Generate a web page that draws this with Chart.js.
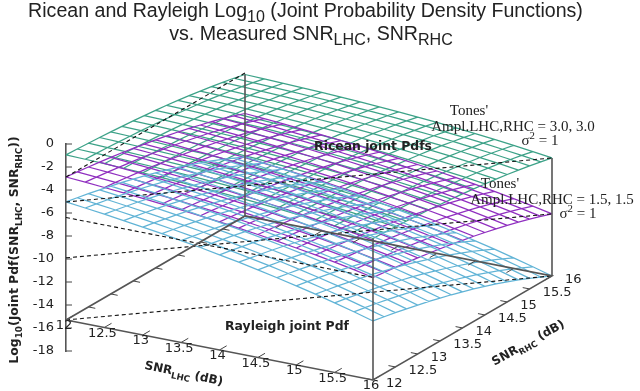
<!DOCTYPE html>
<html>
<head>
<meta charset="utf-8">
<style>
  html, body { margin: 0; padding: 0; background: #fff; }
  canvas { display: block; filter: blur(0.4px); }
</style>
<script src="https://cdn.jsdelivr.net/npm/chart.js@4/dist/chart.umd.min.js"></script>
</head>
<body>
<canvas id="chart" width="640" height="391"></canvas>
<script>
// grid of both SNR axes, in dB
const snrGrid = [12, 12.25, 12.5, 12.75, 13, 13.25, 13.5, 13.75, 14, 14.25, 14.5, 14.75, 15, 15.25, 15.5, 15.75, 16];
const snrTicks = [12, 12.5, 13, 13.5, 14, 14.5, 15, 15.5, 16];
const zTicks = [0, -2, -4, -6, -8, -10, -12, -14, -16, -18];
const floorZ = -15.3;

// log10 pdf, rows are SNR LHC, columns are SNR RHC
const ricean30 = [
  [-0.95,-1.00,-1.06,-1.13,-1.21,-1.29,-1.38,-1.49,-1.60,-1.72,-1.86,-2.01,-2.18,-2.36,-2.55,-2.76,-3.00],
  [-1.00,-1.05,-1.11,-1.18,-1.26,-1.34,-1.43,-1.54,-1.65,-1.78,-1.91,-2.06,-2.23,-2.41,-2.60,-2.82,-3.05],
  [-1.06,-1.11,-1.17,-1.24,-1.32,-1.40,-1.49,-1.60,-1.71,-1.84,-1.97,-2.12,-2.29,-2.47,-2.66,-2.88,-3.11],
  [-1.13,-1.18,-1.24,-1.31,-1.39,-1.47,-1.56,-1.67,-1.78,-1.90,-2.04,-2.19,-2.36,-2.54,-2.73,-2.94,-3.18],
  [-1.21,-1.26,-1.32,-1.39,-1.46,-1.54,-1.64,-1.74,-1.85,-1.98,-2.12,-2.27,-2.43,-2.61,-2.81,-3.02,-3.25],
  [-1.29,-1.34,-1.40,-1.47,-1.54,-1.63,-1.72,-1.82,-1.94,-2.06,-2.20,-2.35,-2.51,-2.69,-2.89,-3.10,-3.33],
  [-1.38,-1.43,-1.49,-1.56,-1.64,-1.72,-1.81,-1.92,-2.03,-2.16,-2.29,-2.44,-2.61,-2.79,-2.98,-3.20,-3.43],
  [-1.49,-1.54,-1.60,-1.67,-1.74,-1.82,-1.92,-2.02,-2.13,-2.26,-2.40,-2.55,-2.71,-2.89,-3.09,-3.30,-3.53],
  [-1.60,-1.65,-1.71,-1.78,-1.85,-1.94,-2.03,-2.13,-2.25,-2.37,-2.51,-2.66,-2.82,-3.00,-3.20,-3.41,-3.64],
  [-1.72,-1.78,-1.84,-1.90,-1.98,-2.06,-2.16,-2.26,-2.37,-2.50,-2.63,-2.78,-2.95,-3.13,-3.32,-3.54,-3.77],
  [-1.86,-1.91,-1.97,-2.04,-2.12,-2.20,-2.29,-2.40,-2.51,-2.63,-2.77,-2.92,-3.09,-3.27,-3.46,-3.67,-3.91],
  [-2.01,-2.06,-2.12,-2.19,-2.27,-2.35,-2.44,-2.55,-2.66,-2.78,-2.92,-3.07,-3.24,-3.42,-3.61,-3.83,-4.06],
  [-2.18,-2.23,-2.29,-2.36,-2.43,-2.51,-2.61,-2.71,-2.82,-2.95,-3.09,-3.24,-3.40,-3.58,-3.78,-3.99,-4.22],
  [-2.36,-2.41,-2.47,-2.54,-2.61,-2.69,-2.79,-2.89,-3.00,-3.13,-3.27,-3.42,-3.58,-3.76,-3.96,-4.17,-4.40],
  [-2.55,-2.60,-2.66,-2.73,-2.81,-2.89,-2.98,-3.09,-3.20,-3.32,-3.46,-3.61,-3.78,-3.96,-4.15,-4.37,-4.60],
  [-2.76,-2.82,-2.88,-2.94,-3.02,-3.10,-3.20,-3.30,-3.41,-3.54,-3.67,-3.83,-3.99,-4.17,-4.37,-4.58,-4.81],
  [-3.00,-3.05,-3.11,-3.18,-3.25,-3.33,-3.43,-3.53,-3.64,-3.77,-3.91,-4.06,-4.22,-4.40,-4.60,-4.81,-5.04]
];
const ricean15 = [
  [-2.87,-2.99,-3.13,-3.27,-3.43,-3.59,-3.77,-3.96,-4.16,-4.38,-4.61,-4.86,-5.13,-5.41,-5.71,-6.04,-6.39],
  [-2.99,-3.12,-3.25,-3.40,-3.55,-3.71,-3.89,-4.08,-4.28,-4.50,-4.74,-4.98,-5.25,-5.53,-5.84,-6.16,-6.51],
  [-3.13,-3.25,-3.39,-3.53,-3.69,-3.85,-4.03,-4.22,-4.42,-4.64,-4.87,-5.12,-5.38,-5.67,-5.97,-6.30,-6.64],
  [-3.27,-3.40,-3.53,-3.68,-3.83,-3.99,-4.17,-4.36,-4.56,-4.78,-5.01,-5.26,-5.53,-5.81,-6.12,-6.44,-6.79],
  [-3.43,-3.55,-3.69,-3.83,-3.98,-4.15,-4.32,-4.51,-4.72,-4.93,-5.17,-5.42,-5.68,-5.97,-6.27,-6.59,-6.94],
  [-3.59,-3.71,-3.85,-3.99,-4.15,-4.31,-4.49,-4.68,-4.88,-5.10,-5.33,-5.58,-5.85,-6.13,-6.43,-6.76,-7.11],
  [-3.77,-3.89,-4.03,-4.17,-4.32,-4.49,-4.67,-4.86,-5.06,-5.28,-5.51,-5.76,-6.02,-6.31,-6.61,-6.94,-7.28],
  [-3.96,-4.08,-4.22,-4.36,-4.51,-4.68,-4.86,-5.05,-5.25,-5.47,-5.70,-5.95,-6.21,-6.50,-6.80,-7.13,-7.47],
  [-4.16,-4.28,-4.42,-4.56,-4.72,-4.88,-5.06,-5.25,-5.45,-5.67,-5.90,-6.15,-6.42,-6.70,-7.00,-7.33,-7.68],
  [-4.38,-4.50,-4.64,-4.78,-4.93,-5.10,-5.28,-5.47,-5.67,-5.89,-6.12,-6.37,-6.63,-6.92,-7.22,-7.55,-7.89],
  [-4.61,-4.74,-4.87,-5.01,-5.17,-5.33,-5.51,-5.70,-5.90,-6.12,-6.35,-6.60,-6.87,-7.15,-7.45,-7.78,-8.13],
  [-4.86,-4.98,-5.12,-5.26,-5.42,-5.58,-5.76,-5.95,-6.15,-6.37,-6.60,-6.85,-7.12,-7.40,-7.70,-8.03,-8.38],
  [-5.13,-5.25,-5.38,-5.53,-5.68,-5.85,-6.02,-6.21,-6.42,-6.63,-6.87,-7.12,-7.38,-7.67,-7.97,-8.29,-8.64],
  [-5.41,-5.53,-5.67,-5.81,-5.97,-6.13,-6.31,-6.50,-6.70,-6.92,-7.15,-7.40,-7.67,-7.95,-8.25,-8.58,-8.93],
  [-5.71,-5.84,-5.97,-6.12,-6.27,-6.43,-6.61,-6.80,-7.00,-7.22,-7.45,-7.70,-7.97,-8.25,-8.56,-8.88,-9.23],
  [-6.04,-6.16,-6.30,-6.44,-6.59,-6.76,-6.94,-7.13,-7.33,-7.55,-7.78,-8.03,-8.29,-8.58,-8.88,-9.21,-9.55],
  [-6.39,-6.51,-6.64,-6.79,-6.94,-7.11,-7.28,-7.47,-7.68,-7.89,-8.13,-8.38,-8.64,-8.93,-9.23,-9.55,-9.90]
];
const rayleigh = [
  [-5.04,-5.24,-5.45,-5.68,-5.92,-6.17,-6.44,-6.72,-7.03,-7.34,-7.68,-8.04,-8.42,-8.82,-9.25,-9.70,-10.17],
  [-5.24,-5.44,-5.65,-5.88,-6.12,-6.37,-6.64,-6.92,-7.23,-7.55,-7.88,-8.24,-8.62,-9.02,-9.45,-9.90,-10.37],
  [-5.45,-5.65,-5.87,-6.09,-6.33,-6.58,-6.85,-7.14,-7.44,-7.76,-8.09,-8.45,-8.83,-9.23,-9.66,-10.11,-10.58],
  [-5.68,-5.88,-6.09,-6.32,-6.56,-6.81,-7.08,-7.36,-7.67,-7.98,-8.32,-8.68,-9.06,-9.46,-9.89,-10.34,-10.81],
  [-5.92,-6.12,-6.33,-6.56,-6.80,-7.05,-7.32,-7.60,-7.90,-8.22,-8.56,-8.92,-9.29,-9.70,-10.12,-10.57,-11.05],
  [-6.17,-6.37,-6.58,-6.81,-7.05,-7.30,-7.57,-7.85,-8.16,-8.48,-8.81,-9.17,-9.55,-9.95,-10.38,-10.83,-11.30],
  [-6.44,-6.64,-6.85,-7.08,-7.32,-7.57,-7.84,-8.12,-8.43,-8.74,-9.08,-9.44,-9.82,-10.22,-10.65,-11.10,-11.57],
  [-6.72,-6.92,-7.14,-7.36,-7.60,-7.85,-8.12,-8.41,-8.71,-9.03,-9.36,-9.72,-10.10,-10.50,-10.93,-11.38,-11.85],
  [-7.03,-7.23,-7.44,-7.67,-7.90,-8.16,-8.43,-8.71,-9.01,-9.33,-9.67,-10.02,-10.40,-10.80,-11.23,-11.68,-12.16],
  [-7.34,-7.55,-7.76,-7.98,-8.22,-8.48,-8.74,-9.03,-9.33,-9.65,-9.98,-10.34,-10.72,-11.12,-11.55,-12.00,-12.47],
  [-7.68,-7.88,-8.09,-8.32,-8.56,-8.81,-9.08,-9.36,-9.67,-9.98,-10.32,-10.68,-11.06,-11.46,-11.89,-12.34,-12.81],
  [-8.04,-8.24,-8.45,-8.68,-8.92,-9.17,-9.44,-9.72,-10.02,-10.34,-10.68,-11.04,-11.41,-11.82,-12.24,-12.69,-13.17],
  [-8.42,-8.62,-8.83,-9.06,-9.29,-9.55,-9.82,-10.10,-10.40,-10.72,-11.06,-11.41,-11.79,-12.19,-12.62,-13.07,-13.55],
  [-8.82,-9.02,-9.23,-9.46,-9.70,-9.95,-10.22,-10.50,-10.80,-11.12,-11.46,-11.82,-12.19,-12.60,-13.02,-13.47,-13.95],
  [-9.25,-9.45,-9.66,-9.89,-10.12,-10.38,-10.65,-10.93,-11.23,-11.55,-11.89,-12.24,-12.62,-13.02,-13.45,-13.90,-14.38],
  [-9.70,-9.90,-10.11,-10.34,-10.57,-10.83,-11.10,-11.38,-11.68,-12.00,-12.34,-12.69,-13.07,-13.47,-13.90,-14.35,-14.83],
  [-10.17,-10.37,-10.58,-10.81,-11.05,-11.30,-11.57,-11.85,-12.16,-12.47,-12.81,-13.17,-13.55,-13.95,-14.38,-14.83,-15.30]
];

// the dashed guide lines: [lhc, rhc] to [lhc, rhc] at one level
const guideFrom = [[12, 12], [12, 12], [12, 12], [12, 12], [12, 12]];
const guideTo = [[12, 16], [16, 16], [16, 12], [16, 16], [16, 16]];
const guideLevels = [-2.87, -5.04, -6.39, -9.90, -15.30];

// gnuplot style view, horizontal is in px and height in z units
function project(lhc, rhc, z) {
  const u = (lhc - 12) / 4, v = (rhc - 12) / 4;
  return { x: 307 * u + 179 * v, y: z - 5.217 * u + 9.043 * v };
}

const GAP = { x: null, y: null };

function surfacePoints(table) {
  const pts = [];
  snrGrid.forEach((lhc, i) => {
    snrGrid.forEach((rhc, j) => pts.push(project(lhc, rhc, table[i][j])));
    pts.push(GAP);
  });
  snrGrid.forEach((rhc, j) => {
    snrGrid.forEach((lhc, i) => pts.push(project(lhc, rhc, table[i][j])));
    pts.push(GAP);
  });
  return pts;
}

function guidePoints() {
  const pts = [];
  guideLevels.forEach((z, i) => {
    pts.push(project(guideFrom[i][0], guideFrom[i][1], z), project(guideTo[i][0], guideTo[i][1], z), GAP);
  });
  return pts;
}

function framePoints() {
  return [
    project(12, 12, floorZ), project(16, 12, floorZ), project(16, 16, floorZ), project(12, 16, floorZ), project(12, 12, floorZ), GAP,
    project(12, 16, floorZ), project(12, 16, ricean30[0][16]), GAP,
    project(16, 12, floorZ), project(16, 12, ricean30[16][0]), GAP,
    project(16, 16, floorZ), project(16, 16, ricean30[16][16])
  ];
}

function tickPoints() {
  const pts = [];
  snrTicks.forEach((t) => {
    pts.push(project(t, 12, floorZ), project(t, 12.16, floorZ), GAP);
    pts.push(project(t, 16, floorZ), project(t, 15.84, floorZ), GAP);
    pts.push(project(12, t, floorZ), project(12.09, t, floorZ), GAP);
    pts.push(project(16, t, floorZ), project(15.91, t, floorZ), GAP);
  });
  zTicks.forEach((z) => pts.push({ x: 0, y: z }, { x: 6, y: z }, GAP));
  return pts;
}

function lineSet(label, data, color, width, order, dash) {
  return {
    label, data, order,
    showLine: true, borderColor: color, borderWidth: width, borderDash: dash || [],
    pointRadius: 0, spanGaps: false, clip: false, tension: 0
  };
}

const SANS = '"DejaVu Sans"';
const SERIF = '"Liberation Serif"';
const TITLE = '"Liberation Sans"';
const INK = "#222";

// text with sub and superscripts, parts are [text, "", "sub" or "sup"]
function richText(ctx, parts, x, y, size, weight, family, rotate, smallRatio, subDrop) {
  const ratio = smallRatio || 0.72, drop = subDrop || 0.3;
  const fontOf = (p) => weight + " " + (p[1] ? size * ratio : size) + "px " + family;
  let w = 0;
  parts.forEach((p) => { ctx.font = fontOf(p); w += ctx.measureText(p[0]).width; });
  ctx.save();
  ctx.translate(x, y);
  ctx.rotate(rotate * Math.PI / 180);
  ctx.fillStyle = INK;
  ctx.textAlign = "left";
  ctx.textBaseline = "alphabetic";
  let pen = -w / 2;
  parts.forEach((p) => {
    ctx.font = fontOf(p);
    const dy = p[1] === "sub" ? size * drop : p[1] === "sup" ? -size * 0.4 : 0;
    ctx.fillText(p[0], pen, dy);
    pen += ctx.measureText(p[0]).width;
  });
  ctx.restore();
}

const textPlugin = {
  id: "plotText",
  afterDraw(chart) {
    const ctx = chart.ctx, xs = chart.scales.x, ys = chart.scales.y;
    ctx.save();

    // snr tick labels follow the floor edges
    ctx.font = "13px " + SANS;
    ctx.fillStyle = INK;
    ctx.textBaseline = "middle";
    snrTicks.forEach((t) => {
      const a = project(t, 12, floorZ);
      ctx.textAlign = "center";
      ctx.fillText(String(t), xs.getPixelForValue(a.x) - 2, ys.getPixelForValue(a.y) + 6);
      const b = project(16, t, floorZ);
      ctx.textAlign = "left";
      ctx.fillText(String(t), xs.getPixelForValue(b.x) + 13, ys.getPixelForValue(b.y) + 4);
    });

    richText(ctx, [["Ricean and Rayleigh Log"], ["10", "sub"], [" (Joint Probability Density Functions)"]], 305.5, 17, 19.6, "normal", TITLE, 0, 0.82, 0.28);
    richText(ctx, [["vs. Measured SNR"], ["LHC", "sub"], [", SNR"], ["RHC", "sub"]], 311, 39.5, 19.6, "normal", TITLE, 0, 0.82, 0.28);

    richText(ctx, [["SNR"], ["LHC", "sub"], [" (dB)"]], 183, 377, 12, "bold", SANS, 12);
    richText(ctx, [["SNR"], ["RHC", "sub"], [" (dB)"]], 530, 346, 12, "bold", SANS, -29);
    richText(ctx, [["Log"], ["10", "sub"], ["(Joint Pdf(SNR"], ["LHC", "sub"], [", SNR"], ["RHC", "sub"], ["))"]], 18, 250, 12.4, "bold", SANS, -90);

    richText(ctx, [["Ricean joint Pdfs"]], 373, 150, 12.4, "bold", SANS, 0);
    richText(ctx, [["Rayleigh joint Pdf"]], 287, 330, 12.4, "bold", SANS, 0);

    richText(ctx, [["Tones'"]], 469, 115, 15, "normal", SERIF, 0);
    richText(ctx, [["Ampl.LHC,RHC = 3.0, 3.0"]], 513, 131, 15, "normal", SERIF, 0);
    richText(ctx, [["σ"], ["2", "sup"], [" = 1"]], 540, 145, 15, "normal", SERIF, 0);
    richText(ctx, [["Tones'"]], 500, 188, 15, "normal", SERIF, 0);
    richText(ctx, [["Ampl.LHC,RHC = 1.5, 1.5"]], 552, 204, 15, "normal", SERIF, 0);
    richText(ctx, [["σ"], ["2", "sup"], [" = 1"]], 578, 218, 15, "normal", SERIF, 0);
    ctx.restore();
  }
};

new Chart(document.getElementById("chart").getContext("2d"), {
  type: "scatter",
  data: {
    datasets: [
      lineSet("frame", framePoints(), "#555", 1.6, 0),
      lineSet("ticks", tickPoints(), "#444", 1, 0),
      lineSet("guides", guidePoints(), "#111", 1.1, 1, [4, 3]),
      lineSet("Rayleigh", surfacePoints(rayleigh), "#62b4d6", 1.25, 2),
      lineSet("Ricean 1.5", surfacePoints(ricean15), "#9030c0", 1.25, 3),
      lineSet("Ricean 3.0", surfacePoints(ricean30), "#3da288", 1.25, 4)
    ]
  },
  options: {
    responsive: false,
    animation: false,
    layout: { padding: { top: 144, bottom: 40, right: 88, left: 0 } },
    plugins: { legend: { display: false }, tooltip: { enabled: false } },
    scales: {
      x: { type: "linear", display: false, min: 0, max: 486 },
      y: {
        type: "linear",
        min: -18,
        max: 0,
        afterFit: (s) => { s.width = 66; },
        afterBuildTicks: (s) => { s.ticks = zTicks.map((v) => ({ value: v })); },
        border: { display: true, color: "#555", width: 1.6 },
        grid: { drawOnChartArea: false, drawTicks: false },
        ticks: { color: INK, padding: 12, font: { family: "DejaVu Sans", size: 13 } }
      }
    }
  },
  plugins: [textPlugin]
});
</script>
</body>
</html>
